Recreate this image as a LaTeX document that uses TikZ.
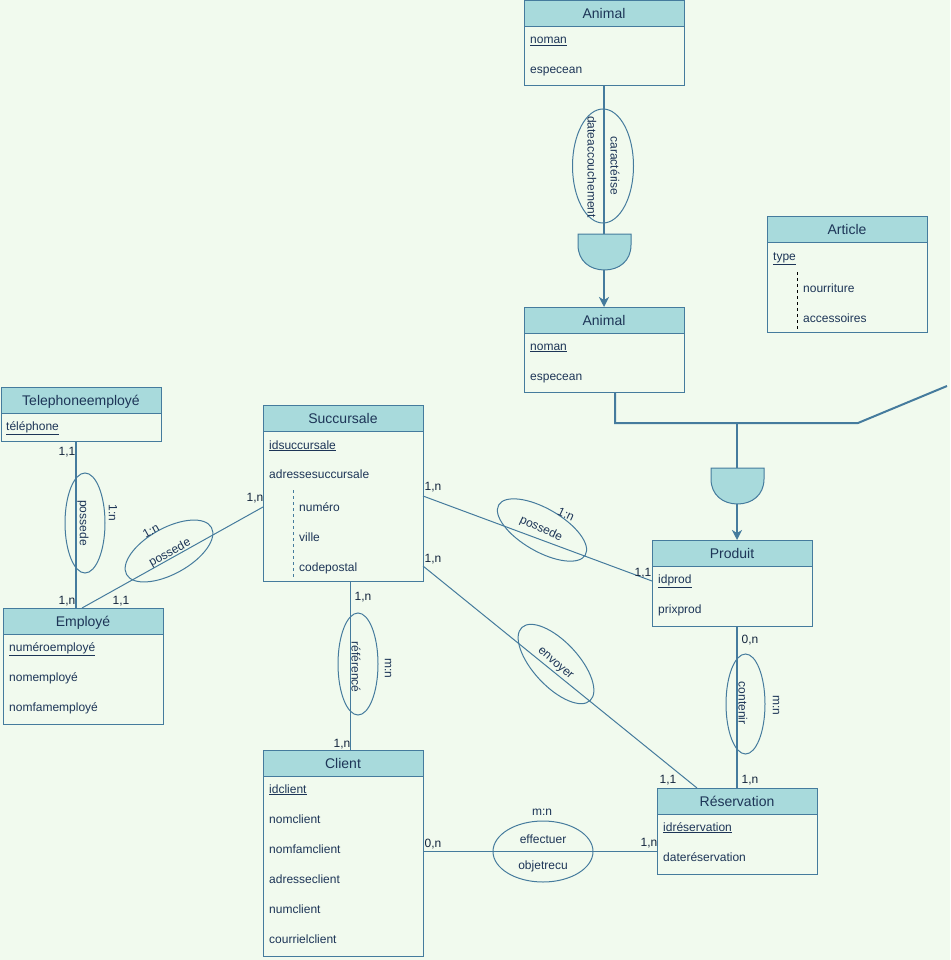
\documentclass[tikz,border=0pt]{standalone}
\usepackage{fontspec}
\setmainfont{Liberation Sans}
\usetikzlibrary{shapes.geometric,arrows.meta,calc}
\definecolor{bg}{HTML}{F1FAEE}
\definecolor{hd}{HTML}{A8DADC}
\definecolor{st}{HTML}{457B9D}
\definecolor{tx}{HTML}{1D3557}
\newcommand\mkentity[5]{%
  \node[entbox, minimum height=#4pt] (#1) at (#2,#3) {};
  \draw[hdr] (#1.north west) rectangle ([yshift=-26pt]#1.north east);
  \node[hdrtxt] at ([yshift=-18pt]#1.north) {#5};
}
\begin{document}
\begin{tikzpicture}[x=1pt,y=-1pt,
  entbox/.style={draw=st, line width=1pt, minimum width=160pt, anchor=north west, inner sep=0, outer sep=0},
  hdr/.style={fill=hd, draw=st, line width=1pt},
  hdrtxt/.style={text=tx, font=\fontsize{14}{16}\selectfont, inner sep=0, anchor=base},
  attr/.style={text=tx, font=\fontsize{12}{14}\selectfont, anchor=base west, inner sep=0, yshift=-4pt},
  card/.style={text=tx!70!black, font=\fontsize{12}{14}\selectfont, inner sep=0, anchor=base, yshift=-4.3pt},
  rel/.style={draw=st, ellipse, line width=1pt, inner sep=0, outer sep=0},
  rtxt/.style={text=tx, font=\fontsize{12}{14}\selectfont, inner sep=0},
  htxt/.style={rtxt, anchor=base, yshift=-4pt},
  conn/.style={draw=st, line width=1pt},
  heavy/.style={draw=st, line width=2pt},
  arr/.style={-{Stealth[length=10pt,width=10pt,inset=3pt]}},
  gate/.style={fill=hd, draw=st, line width=1pt}
]
\fill[bg] (0,0) rectangle (950,960);
\useasboundingbox (0,0) rectangle (950,960);

% ---------- entities ----------
\mkentity{an1}{524}{1}{85}{Animal}
\node[attr] at (530,40) {\underline{noman}};
\node[attr] at (530,70) {especean};

\mkentity{an2}{524}{307}{85}{Animal}
\node[attr] at (530,346) {\underline{noman}};
\node[attr] at (530,376) {especean};

\mkentity{art}{767}{216}{116}{Article}
\node[attr] at (773,256) {\underline{type}};
\node[attr] at (803,288) {nourriture};
\node[attr] at (803,318) {accessoires};
\draw[black, dashed, line width=1pt] ([xshift=30pt,yshift=-56pt]art.north west) -- ([xshift=30pt,yshift=2pt]art.south west);

\mkentity{tel}{1}{387}{54}{Telephoneemployé}
\node[attr] at (6,426) {\underline{téléphone}};

\mkentity{emp}{3}{608}{116}{Employé}
\node[attr] at (9,647) {\underline{numéroemployé}};
\node[attr] at (9,677) {nomemployé};
\node[attr] at (9,707) {nomfamemployé};

\mkentity{succ}{263}{405}{176}{Succursale}
\node[attr] at (269,445) {\underline{idsuccursale}};
\node[attr] at (269,474) {adressesuccursale};
\node[attr] at (299,507) {numéro};
\node[attr] at (299,537) {ville};
\node[attr] at (299,567) {codepostal};
\draw[st, dashed, line width=1pt] ([xshift=30pt,yshift=-85pt]succ.north west) -- ([xshift=30pt,yshift=3pt]succ.south west);

\mkentity{prod}{652}{540}{86}{Produit}
\node[attr] at (658,579) {\underline{idprod}};
\node[attr] at (658,609) {prixprod};

\mkentity{cli}{263}{750}{206}{Client}
\node[attr] at (269,789) {\underline{idclient}};
\node[attr] at (269,819) {nomclient};
\node[attr] at (269,849) {nomfamclient};
\node[attr] at (269,879) {adresseclient};
\node[attr] at (269,909) {numclient};
\node[attr] at (269,939) {courrielclient};

\mkentity{res}{657}{788}{86}{Réservation}
\node[attr] at (663,827) {\underline{idréservation}};
\node[attr] at (663,857) {dateréservation};

% ---------- inheritance gates ----------
\draw[gate] (578,234) -- (631,234) -- (631,245) .. controls (631,261) and (619,270) .. (604.5,270) .. controls (590,270) and (578,261) .. (578,245) -- cycle;
\coordinate (g1top) at (604,234);
\coordinate (g1bot) at (604,270);
\draw[gate] (711,468) -- (764,468) -- (764,479) .. controls (764,495) and (752,504) .. (737.5,504) .. controls (723,504) and (711,495) .. (711,479) -- cycle;
\coordinate (g2top) at (737,468);
\coordinate (g2bot) at (737,504);

\draw[heavy] ([xshift=80pt]an1.south west) -- (g1top);
\draw[heavy, arr] (g1bot) -- ([xshift=80pt]an2.north west);

\coordinate (j) at (737,423);
\coordinate (bend) at (858,423);
\coordinate (tail) at (947,386);
\draw[heavy] ([xshift=91pt]an2.south west) |- (j) -- (bend) -- (tail);
\draw[heavy] (j) -- (g2top);
\draw[heavy, arr] (g2bot) -- ([xshift=85pt]prod.north west);

% ---------- connectors ----------
\draw[heavy] ([xshift=75pt]tel.south west) -- ([xshift=73pt]emp.north west);
\draw[conn] ([xshift=79pt]emp.north west) -- ([yshift=-102pt]succ.north west);
\draw[conn] ([yshift=-91pt]succ.north east) -- ([yshift=-41pt]prod.north west);
\draw[conn] ([yshift=-161pt]succ.north east) -- ([xshift=40pt]res.north west);
\draw[conn] ([xshift=87pt]succ.south west) -- ([xshift=87pt]cli.north west);
\draw[conn, line width=1.5pt] ([xshift=85pt]prod.south west) -- ([xshift=80pt]res.north west);
\draw[conn] ([yshift=-101pt]cli.north east) -- ([yshift=-63pt]res.north west);

% ---------- relationship ellipses ----------
\node[rel, minimum width=61pt, minimum height=114pt] (rcar) at (603,166) {};
\node[rtxt, rotate=-90] at (592,167) {dateaccouchement};
\node[rtxt, rotate=-90] at (615,166) {caractérise};

\node[rel, minimum width=40pt, minimum height=100pt] (rtel) at (85,523) {};
\node[rtxt, rotate=-90] at (83,523) {possede};
\node[rtxt, rotate=-90] at (113,513) {1:n};

\node[rel, minimum width=97pt, minimum height=46pt, rotate=29] (remp) at (169,551) {};
\node[rtxt, rotate=29] at (170,553) {possede};
\node[rtxt, rotate=29] at (151,531) {1:n};

\node[rel, minimum width=100pt, minimum height=43pt, rotate=-30] (rprod) at (542,530) {};
\node[rtxt, rotate=-25] at (541,529) {possede};
\node[rtxt, rotate=-25] at (566,514) {1:n};

\node[rel, minimum width=100pt, minimum height=45pt, rotate=-47] (renv) at (556,664) {};
\node[rtxt, rotate=-41] at (555,664) {envoyer};

\node[rel, minimum width=40pt, minimum height=102pt] (rref) at (358,664) {};
\node[rtxt, rotate=-90] at (356,667) {référencé};
\node[rtxt, rotate=-90] at (388,668) {m:n};

\node[rel, minimum width=39pt, minimum height=100pt] (rcont) at (745.5,704) {};
\node[rtxt, rotate=-90] at (743,703) {contenir};
\node[rtxt, rotate=-90] at (776,705) {m:n};

\node[rel, minimum width=100pt, minimum height=61pt] (reff) at (543,851.5) {};
\node[htxt] at (543,839) {effectuer};
\node[htxt] at (543,865) {objetrecu};
\node[htxt] at (542,811) {m:n};

% ---------- cardinalities ----------
\node[card] at (67,451) {1,1};
\node[card] at (67,600) {1,n};
\node[card] at (121,600) {1,1};
\node[card] at (255,497) {1,n};
\node[card] at (433,486) {1,n};
\node[card] at (433,558) {1,n};
\node[card] at (643,572) {1,1};
\node[card] at (363,596) {1,n};
\node[card] at (342,743) {1,n};
\node[card] at (750,639) {0,n};
\node[card] at (750,779) {1,n};
\node[card] at (668,779) {1,1};
\node[card] at (433,843) {0,n};
\node[card] at (649,842) {1,n};
\end{tikzpicture}
\end{document}
